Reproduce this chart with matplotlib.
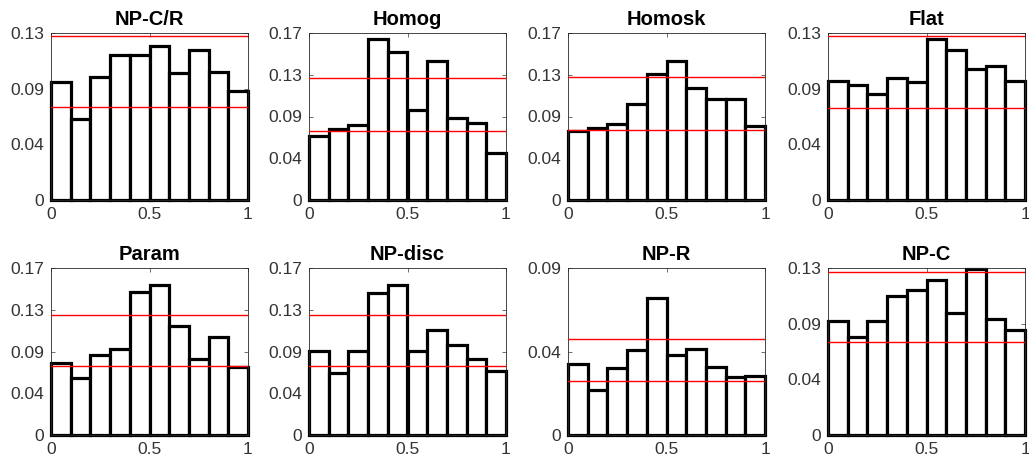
import numpy as np
import matplotlib.pyplot as plt

plt.rcParams["font.family"] = ["Liberation Sans", "DejaVu Sans"]

titles = ["NP-C/R", "Homog", "Homosk", "Flat", "Param", "NP-disc", "NP-R", "NP-C"]
bin_edges = [0.0, 0.1, 0.2, 0.3, 0.4, 0.5, 0.6, 0.7, 0.8, 0.9, 1.0]

np_cr = [0.092, 0.063, 0.096, 0.1125, 0.1125, 0.120, 0.099, 0.117, 0.100, 0.085]
homog = [0.065, 0.0725, 0.076, 0.164, 0.151, 0.092, 0.142, 0.083, 0.078, 0.048]
homosk = [0.070, 0.0735, 0.0775, 0.098, 0.128, 0.141, 0.114, 0.1025, 0.1025, 0.0755]
flat = [0.093, 0.0895, 0.0825, 0.095, 0.092, 0.1255, 0.117, 0.102, 0.104, 0.093]
param = [0.073, 0.058, 0.081, 0.088, 0.146, 0.153, 0.111, 0.077, 0.100, 0.069]
np_disc = [0.086, 0.063, 0.086, 0.145, 0.153, 0.086, 0.107, 0.092, 0.077, 0.065]
np_r = [0.038, 0.024, 0.036, 0.046, 0.074, 0.043, 0.0465, 0.0365, 0.0315, 0.032]
np_c = [0.089, 0.076, 0.089, 0.108, 0.113, 0.121, 0.095, 0.129, 0.0905, 0.082]
heights = [np_cr, homog, homosk, flat, param, np_disc, np_r, np_c]

upper_band = [0.1274, 0.1242, 0.1248, 0.1274, 0.1222, 0.1222, 0.0516, 0.1268]
lower_band = [0.0723, 0.0701, 0.0715, 0.0720, 0.0698, 0.0698, 0.0292, 0.0721]
y_top = [0.13, 0.17, 0.17, 0.13, 0.17, 0.17, 0.09, 0.13]
n_yticks = [4, 5, 5, 4, 5, 5, 3, 4]

fig = plt.figure(figsize=(10.29, 4.66), dpi=100)
lefts = [51, 309, 568, 828]
tops = [33, 268]
w, h = 197, 167

for i, title in enumerate(titles):
    r, c = divmod(i, 4)
    ax = fig.add_axes([lefts[c] / 1029, 1 - (tops[r] + h) / 466, w / 1029, h / 466])
    ax.bar(bin_edges[:-1], heights[i], width=0.1, align="edge", color="white",
           edgecolor="black", linewidth=2.3, clip_on=False, zorder=2)
    ax.axhline(upper_band[i], color="red", linewidth=1.0, zorder=3)
    ax.axhline(lower_band[i], color="red", linewidth=1.0, zorder=3)
    ax.set_xlim(0, 1)
    ax.set_ylim(0, y_top[i])
    ax.set_xticks([0, 0.5, 1])
    ax.set_xticklabels(["0", "0.5", "1"])
    yt = np.linspace(0, y_top[i], n_yticks[i])
    ax.set_yticks(yt)
    ax.set_yticklabels(["0"] + ["%.2f" % v for v in yt[1:]])
    ax.tick_params(direction="in", length=3, width=0.5, colors="#333333",
                   labelsize=12.5, top=True, right=True, pad=5)
    for s in ax.spines.values():
        s.set_linewidth(0.6)
        s.set_color("#262626")
    ax.set_title(title, fontsize=14.5, fontweight="bold", pad=6)

fig.savefig("out.png", dpi=100)
